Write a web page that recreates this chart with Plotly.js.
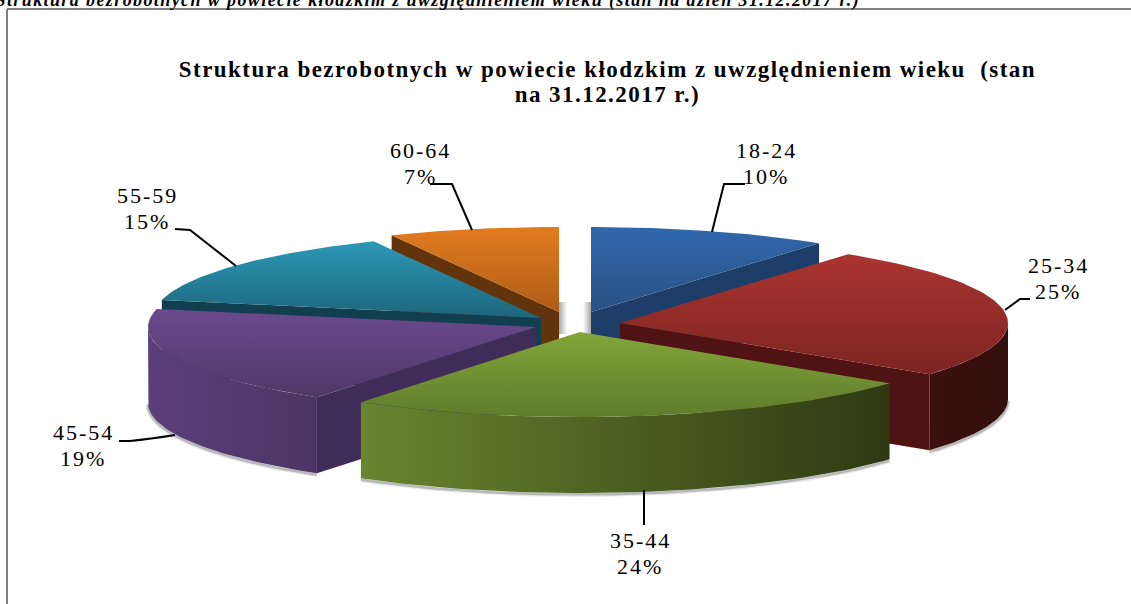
<!DOCTYPE html>
<html><head><meta charset="utf-8">
<script src="https://cdn.plot.ly/plotly-3.0.1.min.js"></script>
<style>
html,body{margin:0;padding:0;background:#fff;overflow:hidden}
#c{width:1131px;height:604px}
</style></head><body><div id="c"></div>
<script>
// ---- data (slice sizes; labels show them rounded) ----
const categories = ['18-24','25-34','35-44','45-54','55-59','60-64'];
const shares = [10,25.3,24.25,18.85,14.5,7.1];
const titleLines = ['Struktura bezrobotnych w powiecie kłodzkim z uwzględnieniem wieku  (stan','na 31.12.2017 r.)'];
const pageCaption = 'Struktura bezrobotnych w powiecie kłodzkim z uwzględnieniem wieku (stan na dzień 31.12.2017 r.)';
// ---- styling ----
const topColours = [['#3068ac','#2a5084'],['#ab3430','#7c2422'],['#82a53a','#5f7c2c'],['#6b4a8e','#4f3768'],['#2c98b6','#1e667c'],['#e27c20','#ae5c16']];
const wallColours = [['#1c3e68','#1c3e68'],['#3c100e','#340e0c'],['#68852f','#2e3912'],['#5c3e7a','#4c3566'],['#123f50','#123f50'],['#62340c','#62340c']];
const faceColours = ['#1c3e68','#4e1312','#2e3912','#402c58','#123f50','#62340c'];
const apexX = [591,620,580,536,541,559];
const apexY = [312,323,332,327,318,312];
const labelX = [766,1058,640,83,147,420];
const labelY = [150,265,540,432,195,150];
const leaders = ['M712,232 L724,184 L745,184','M1005,310 L1020,299 L1030,299','M644,490 L644,525',
  'M175,435 Q150,439 130,441 L119,441','M175,229 L190,230 L236,266','M472,230 L452,184 L430,184'];
const drawOrder = [5,4,3,0,1,2];
const RX = 388, RY = 85, DEPTH = 76, LINE_GAP = 26;

const total = shares.reduce((a,b)=>a+b,0);
let acc = 0;
const spans = shares.map(v=>{const a0=acc/total*2*Math.PI; acc+=v; return [a0,acc/total*2*Math.PI];});
function arc(i,a0,a1,dy){
  const xs=[],ys=[],n=60;
  for(let k=0;k<=n;k++){const t=a0+(a1-a0)*k/n;
    xs.push(apexX[i]+RX*Math.sin(t)); ys.push(apexY[i]-RY*Math.cos(t)+dy);}
  return {xs,ys};
}
function poly(xs,ys,fill){
  const t={type:'scatter',mode:'lines',x:xs,y:ys,fill:'toself',line:{width:0},hoverinfo:'skip',showlegend:false};
  Object.assign(t,fill); return t;
}
function grad(type,c,start,stop){
  return {fillcolor:c[0],fillgradient:{type:type,start:start,stop:stop,colorscale:[[0,c[0]],[1,c[1]]]}};
}
const traces=[];
traces.push(poly([559,567,567,559],[302,302,334,334],grad('horizontal',['#a8a8a8','#ffffff'],559,567)));
traces.push(poly([583,591,591,583],[302,302,336,336],grad('horizontal',['#ffffff','#a8a8a8'],583,591)));
drawOrder.forEach(i=>{
  const [a0,a1]=spans[i];
  const top=arc(i,a0,a1,0);
  const f0=Math.max(a0,Math.PI/2), f1=Math.min(a1,1.5*Math.PI);
  const hasWall=f0<f1;
  if(hasWall){
    const low=arc(i,f0,f1,DEPTH);
    [[5,'rgba(130,130,130,0.20)'],[2.5,'rgba(100,100,100,0.35)']].forEach(s=>{
      traces.push({type:'scatter',mode:'lines',x:low.xs,y:low.ys.map(v=>v+1.5),line:{width:s[0],color:s[1]},hoverinfo:'skip',showlegend:false});
    });
  }
  [[a0,a0>Math.PI],[a1,a1<Math.PI]].forEach(f=>{
    if(!f[1])return;
    const ex=apexX[i]+RX*Math.sin(f[0]), ey=apexY[i]-RY*Math.cos(f[0]);
    traces.push(poly([apexX[i],ex,ex,apexX[i]],[apexY[i],ey,ey+DEPTH,apexY[i]+DEPTH],{fillcolor:faceColours[i]}));
  });
  if(hasWall){
    const up=arc(i,f0,f1,0), low=arc(i,f0,f1,DEPTH);
    const wx=up.xs.concat(low.xs.slice().reverse()), wy=up.ys.concat(low.ys.slice().reverse());
    traces.push(poly(wx,wy,grad('horizontal',wallColours[i],Math.min(...wx),Math.max(...wx))));
  }
  const px=[apexX[i]].concat(top.xs), py=[apexY[i]].concat(top.ys);
  traces.push(poly(px,py,grad('vertical',topColours[i],Math.min(...py),Math.max(...py))));
});
const serif='"Liberation Serif", serif';
const annotations=[], spacing=[];
function note(text,x,y,size,sp,yref){
  annotations.push({x:x,y:y,xref:'x',yref:yref||'y',showarrow:false,align:'center',xanchor:'center',yanchor:'middle',
    text:text,font:{family:serif,size:size,color:'#000'}});
  spacing.push(sp);
}
categories.forEach((c,i)=>{
  note(c,labelX[i],labelY[i],22,2);
  note(Math.round(shares[i])+'%',labelX[i],labelY[i]+LINE_GAP,22,2);
});
note('<b>'+titleLines[0]+'</b>',607,69,23,1.45);
note('<b>'+titleLines[1]+'</b>',607,94,23,1.45);
note('<b><i>'+pageCaption+'</i></b>',428,1-1/604,18,1.4,'paper');
const shapes=leaders.map(p=>({type:'path',path:p,xref:'x',yref:'y',line:{color:'#000',width:2}}));
shapes.push({type:'line',xref:'x',yref:'y',x0:7,x1:1131,y0:9,y1:9,line:{color:'#808080',width:2}});
shapes.push({type:'line',xref:'x',yref:'y',x0:7,x1:7,y0:9,y1:604,line:{color:'#808080',width:2}});
Plotly.newPlot('c',traces,{
  width:1131,height:604,margin:{l:0,r:0,t:0,b:0},paper_bgcolor:'#fff',plot_bgcolor:'#fff',
  xaxis:{range:[0,1131],visible:false,fixedrange:true},
  yaxis:{range:[604,0],visible:false,fixedrange:true},
  showlegend:false,annotations,shapes
},{displayModeBar:false,staticPlot:true}).then(()=>{
  document.querySelectorAll('.annotation').forEach(el=>{
    const k=+el.getAttribute('data-index');
    const t=el.querySelector('text');
    if(t) t.style.letterSpacing=spacing[k]+'px';
  });
});
</script></body></html>
